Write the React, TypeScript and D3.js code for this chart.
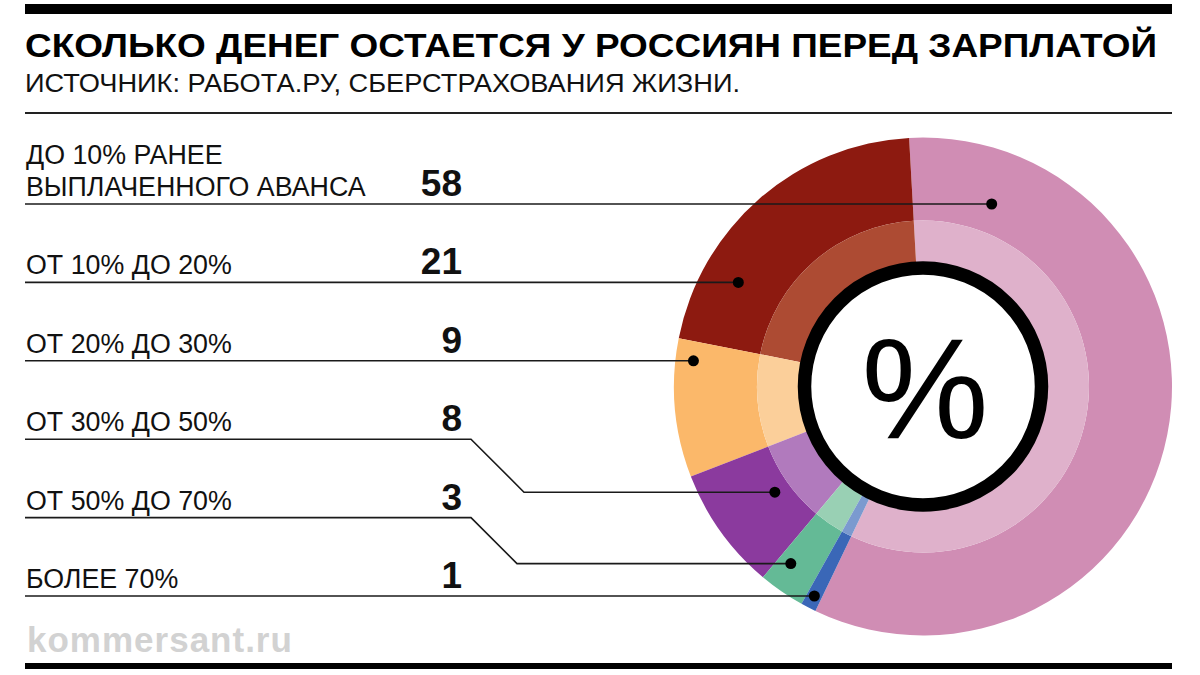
import React from 'react';
import * as d3 from 'd3';

// ---------- data ----------
const categories: string[][] = [
  ['ДО 10% РАНЕЕ', 'ВЫПЛАЧЕННОГО АВАНСА'],
  ['ОТ 10% ДО 20%'],
  ['ОТ 20% ДО 30%'],
  ['ОТ 30% ДО 50%'],
  ['ОТ 50% ДО 70%'],
  ['БОЛЕЕ 70%'],
];
const values: number[] = [58, 21, 9, 8, 3, 1];
const outerColors: string[] = ['#d08db4', '#8d1a10', '#fbb86a', '#8b3a9e', '#64ba96', '#3a67b7'];
const innerColors: string[] = ['#dfb1cb', '#ad4b33', '#fbcf9a', '#b17abd', '#99d0b4', '#7b9acf'];

const title = 'СКОЛЬКО ДЕНЕГ ОСТАЕТСЯ У РОССИЯН ПЕРЕД ЗАРПЛАТОЙ';
const subtitle = 'ИСТОЧНИК: РАБОТА.РУ, СБЕРСТРАХОВАНИЯ ЖИЗНИ.';
const footer = 'kommersant.ru';

// ---------- layout ----------
const W = 1200;
const H = 675;
const LEFT = 25;
const RIGHT = 1172;
const cx = 923;
const cy = 386.5;
const R_OUT = 249;
const R_MID = 166;
const R_RING = 118.5;
const startDeg = 205.6;
// leader dot placement (radius inside slice, vertical drop of leader elbow)
const dotRadius = [195, 212, 231, 182, 221, 236];
const dotDrop = [0, 0, 0, 53, 46, 0];
const elbowX = 471;

const FONT = '"Liberation Sans", Arial, Helvetica, sans-serif';

export default function App() {
  const rad = (d: number) => (d * Math.PI) / 180;
  const pie = d3
    .pie<number>()
    .sort(null)
    .value((d) => d)
    .startAngle(rad(startDeg))
    .endAngle(rad(startDeg - 360));
  const arcs = pie(values);

  const outerArc = d3.arc<d3.PieArcDatum<number>>().innerRadius(R_MID).outerRadius(R_OUT);
  const innerArc = d3.arc<d3.PieArcDatum<number>>().innerRadius(R_RING).outerRadius(R_MID);

  const rowY = d3.scaleLinear().domain([0, values.length - 1]).range([204, 596]);

  const dotPos = (i: number) => {
    const a = arcs[i];
    const lo = Math.min(a.startAngle, a.endAngle);
    const hi = Math.max(a.startAngle, a.endAngle);
    const y = rowY(i) + dotDrop[i];
    const dy = y - cy;
    const r = dotRadius[i];
    const dx = Math.sqrt(Math.max(0, r * r - dy * dy));
    for (const s of [1, -1]) {
      const x = s * dx;
      const ang = Math.atan2(x, -dy);
      for (const k of [-1, 0, 1]) {
        const aa = ang + k * 2 * Math.PI;
        if (aa >= lo && aa <= hi) return [cx + x, y];
      }
    }
    return [cx - dx, y];
  };

  return (
    <svg
      width={W}
      height={H}
      viewBox={`0 0 ${W} ${H}`}
      style={{ position: 'absolute', left: 0, top: 0, background: '#fff' }}
      fontFamily={FONT}
    >
      <rect x={0} y={0} width={W} height={H} fill="#fff" />
      {/* top bar */}
      <rect x={LEFT} y={4} width={RIGHT - LEFT} height={10} fill="#000" />
      <text x={LEFT} y={57} fontSize={33} fontWeight={700} fill="#000" textLength={1132} lengthAdjust="spacingAndGlyphs">
        {title}
      </text>
      <text x={LEFT} y={92} fontSize={25.5} fill="#111" textLength={715} lengthAdjust="spacingAndGlyphs">
        {subtitle}
      </text>
      <rect x={LEFT} y={112} width={RIGHT - LEFT} height={2} fill="#222" />

      {/* donut */}
      <g transform={`translate(${cx},${cy})`}>
        {arcs.map((a, i) => (
          <path key={'o' + i} d={outerArc(a) || ''} fill={outerColors[i]} />
        ))}
        {arcs.map((a, i) => (
          <path key={'i' + i} d={innerArc(a) || ''} fill={innerColors[i]} />
        ))}
        <circle r={R_RING} fill="#fff" stroke="#000" strokeWidth={13.5} />
        <text x={2} y={51} textAnchor="middle" fontSize={143} fill="#000">
          %
        </text>
      </g>

      {/* labels & leaders */}
      {categories.map((lines, i) => {
        const y = rowY(i);
        const [dx, dy] = dotPos(i);
        const drop = dotDrop[i];
        const path =
          drop === 0
            ? `M${LEFT},${y}H${dx}`
            : `M${LEFT},${y}H${elbowX}L${elbowX + drop},${y + drop}H${dx}`;
        return (
          <g key={'r' + i}>
            {lines.map((t, j) => (
              <text
                key={j}
                x={LEFT + 1}
                y={y - 8 - (lines.length - 1 - j) * 32.5}
                fontSize={26.8}
                fill="#111"
              >
                {t}
              </text>
            ))}
            <text x={462} y={y - 8} textAnchor="end" fontSize={37} fontWeight={700} fill="#111">
              {values[i]}
            </text>
            <path d={path} fill="none" stroke="#1a1a1a" strokeWidth={1.6} />
            <circle cx={dx} cy={dy} r={5.5} fill="#000" />
          </g>
        );
      })}

      {/* footer */}
      <text x={LEFT + 2} y={652} fontSize={35} fontWeight={700} fill="#d2d2d2" letterSpacing={1}>
        {footer}
      </text>
      <rect x={LEFT} y={663} width={RIGHT - LEFT} height={6} fill="#000" />
    </svg>
  );
}
